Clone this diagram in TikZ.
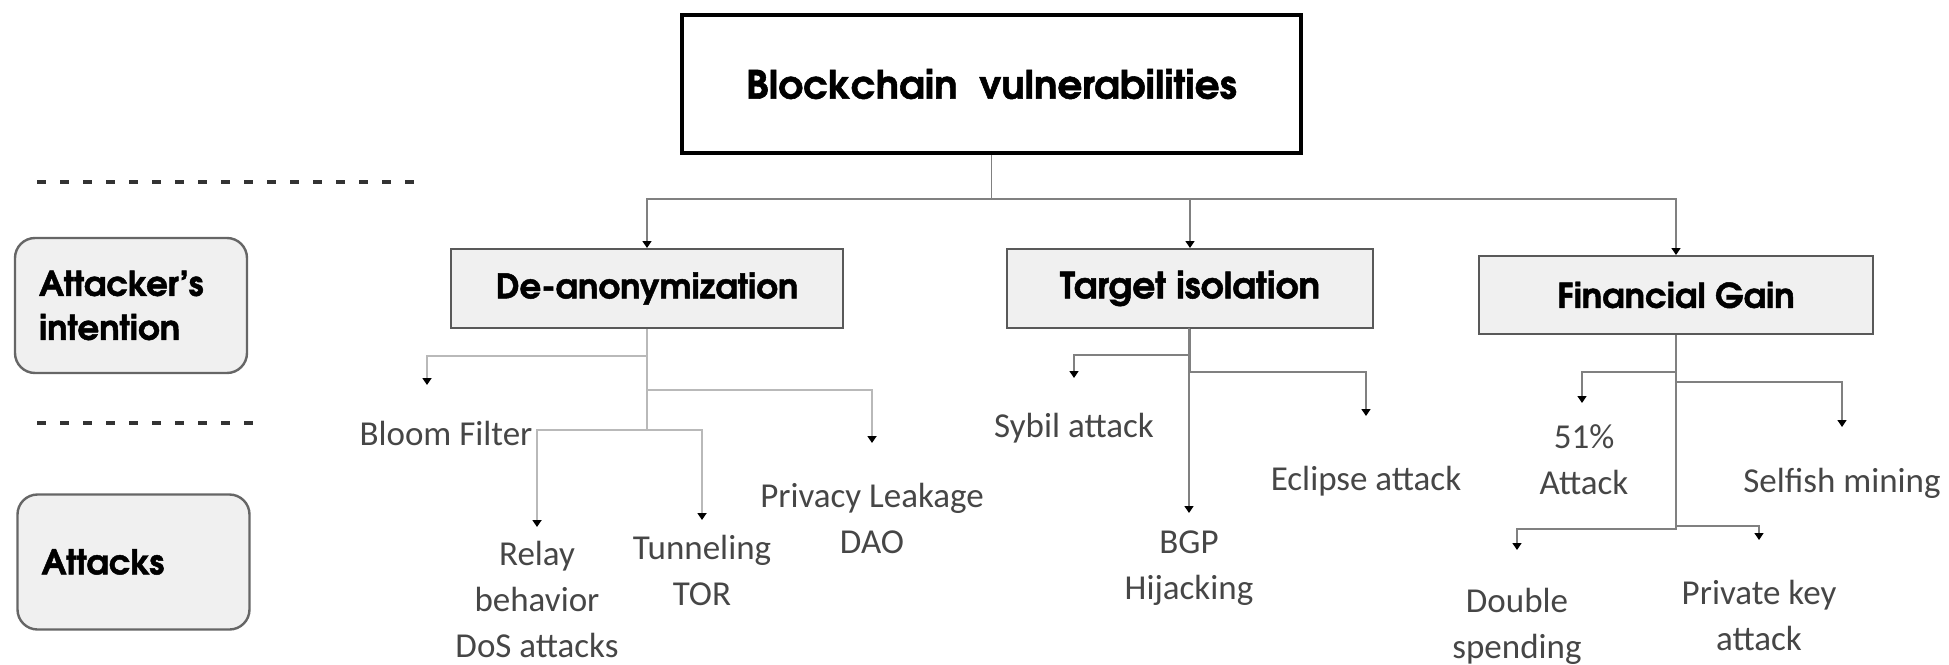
\documentclass[tikz,border=0pt]{standalone}
\usepackage{fontspec}
\usetikzlibrary{arrows.meta,calc}
\setmainfont{Carlito}
\newfontfamily\headfont{texgyreadventor}[Extension=.otf,UprightFont=*-regular,BoldFont=*-bold,BoldFeatures={FakeBold=1.4}]

\definecolor{linegray}{RGB}{128,128,128}
\definecolor{softgray}{RGB}{185,185,185}
\definecolor{boxgray}{RGB}{240,240,240}
\definecolor{leafgray}{RGB}{70,70,70}

\tikzset{
	topbox/.style={draw=black,line width=2pt,fill=white,minimum width=309.5pt,minimum height=69pt,
		font=\headfont\bfseries\fontsize{19.5}{24}\selectfont},
	catbox/.style={draw=black!65,line width=1pt,fill=boxgray,minimum height=39.5pt,
		font=\headfont\bfseries\fontsize{17}{20}\selectfont},
	sidebox/.style={draw=black!60,line width=1.2pt,fill=boxgray,rounded corners=10pt,
		minimum width=116pt,minimum height=67.5pt,text width=92pt,align=left,
		font=\headfont\bfseries\fontsize{17}{22}\selectfont},
	leaf/.style={anchor=north,inner sep=0pt,align=center,text=leafgray,
		font=\fontsize{17.5}{23}\selectfont},
	conn/.style={draw=linegray,line width=0.75pt,-{Triangle[width=4.5pt,length=3.5pt,color=black]}},
	soft/.style={conn,draw=softgray,line width=1.4pt},
	divider/.style={draw=black!80,line width=2pt,dash pattern=on 4.5pt off 7pt}
}

\begin{document}
\begin{tikzpicture}[x=0.5pt,y=-0.5pt]

	\useasboundingbox (0,0) rectangle (1949,664);

	% levels on the left
	\draw[divider] (37,182) -- (422,182);
	\draw[divider] (37,423) -- (255,423);
	\node[sidebox] (intent) at (131,305.5) {Attacker’s\\intention};
	\node[sidebox] (attacks) at (133.5,562) {Attacks};

	% tree
	\node[topbox] (top) at (991.5,84) {Blockchain\ \ vulnerabilities};
	\node[catbox,minimum width=196pt] (deanon) at (647,288.5) {De-anonymization};
	\node[catbox,minimum width=183pt,font=\headfont\bfseries\fontsize{18}{20}\selectfont] (target) at (1190,288.5) {Target isolation};
	\node[catbox,minimum width=197pt,minimum height=39pt] (finance) at (1676,295) {Financial Gain};

	\node[leaf] (bloom) at (446,421) {Bloom Filter};
	\node[leaf] (relay) at (537,541) {Relay\\behavior\\DoS attacks};
	\node[leaf] (tunnel) at (702,535) {Tunneling\\TOR};
	\node[leaf] (privacy) at (872,483) {Privacy Leakage\\DAO};
	\node[leaf] (sybil) at (1074,413) {Sybil attack};
	\node[leaf] (bgp) at (1189,530) {BGP\\Hijacking};
	\node[leaf] (eclipse) at (1366,466) {Eclipse attack};
	\node[leaf] (fifty) at (1584,424) {51\%\\Attack};
	\node[leaf] (selfish) at (1842,468) {Selfish mining};
	\node[leaf] (dspend) at (1517,588) {Double\\spending};
	\node[leaf] (privkey) at (1759,580) {Private key\\attack};

	\foreach \c in {deanon,target,finance}
	{
		\draw[conn] (top.south) -- ++(0,44) -| (\c.north);
	};
	\foreach \p/\d/\l/\dx/\g/\s in {
	deanon/27/bloom/-19/36/soft,
	deanon/61/privacy/0/40/soft,
	deanon/101/relay/0/14/soft,
	deanon/101/tunnel/0/15/soft,
	target/26/sybil/0/35/conn,
	target/43/eclipse/0/50/conn,
	target/0/bgp/0/17/conn,
	finance/37/fifty/-2/21/conn,
	finance/47/selfish/0/41/conn,
	finance/194/dspend/0/38/conn,
	finance/191/privkey/0/40/conn}
	{
		\draw[\s] (\p.south) -- ++(0,\d) -| ($(\l.north)+(\dx,-\g)$);
	};
\end{tikzpicture}
\end{document}
